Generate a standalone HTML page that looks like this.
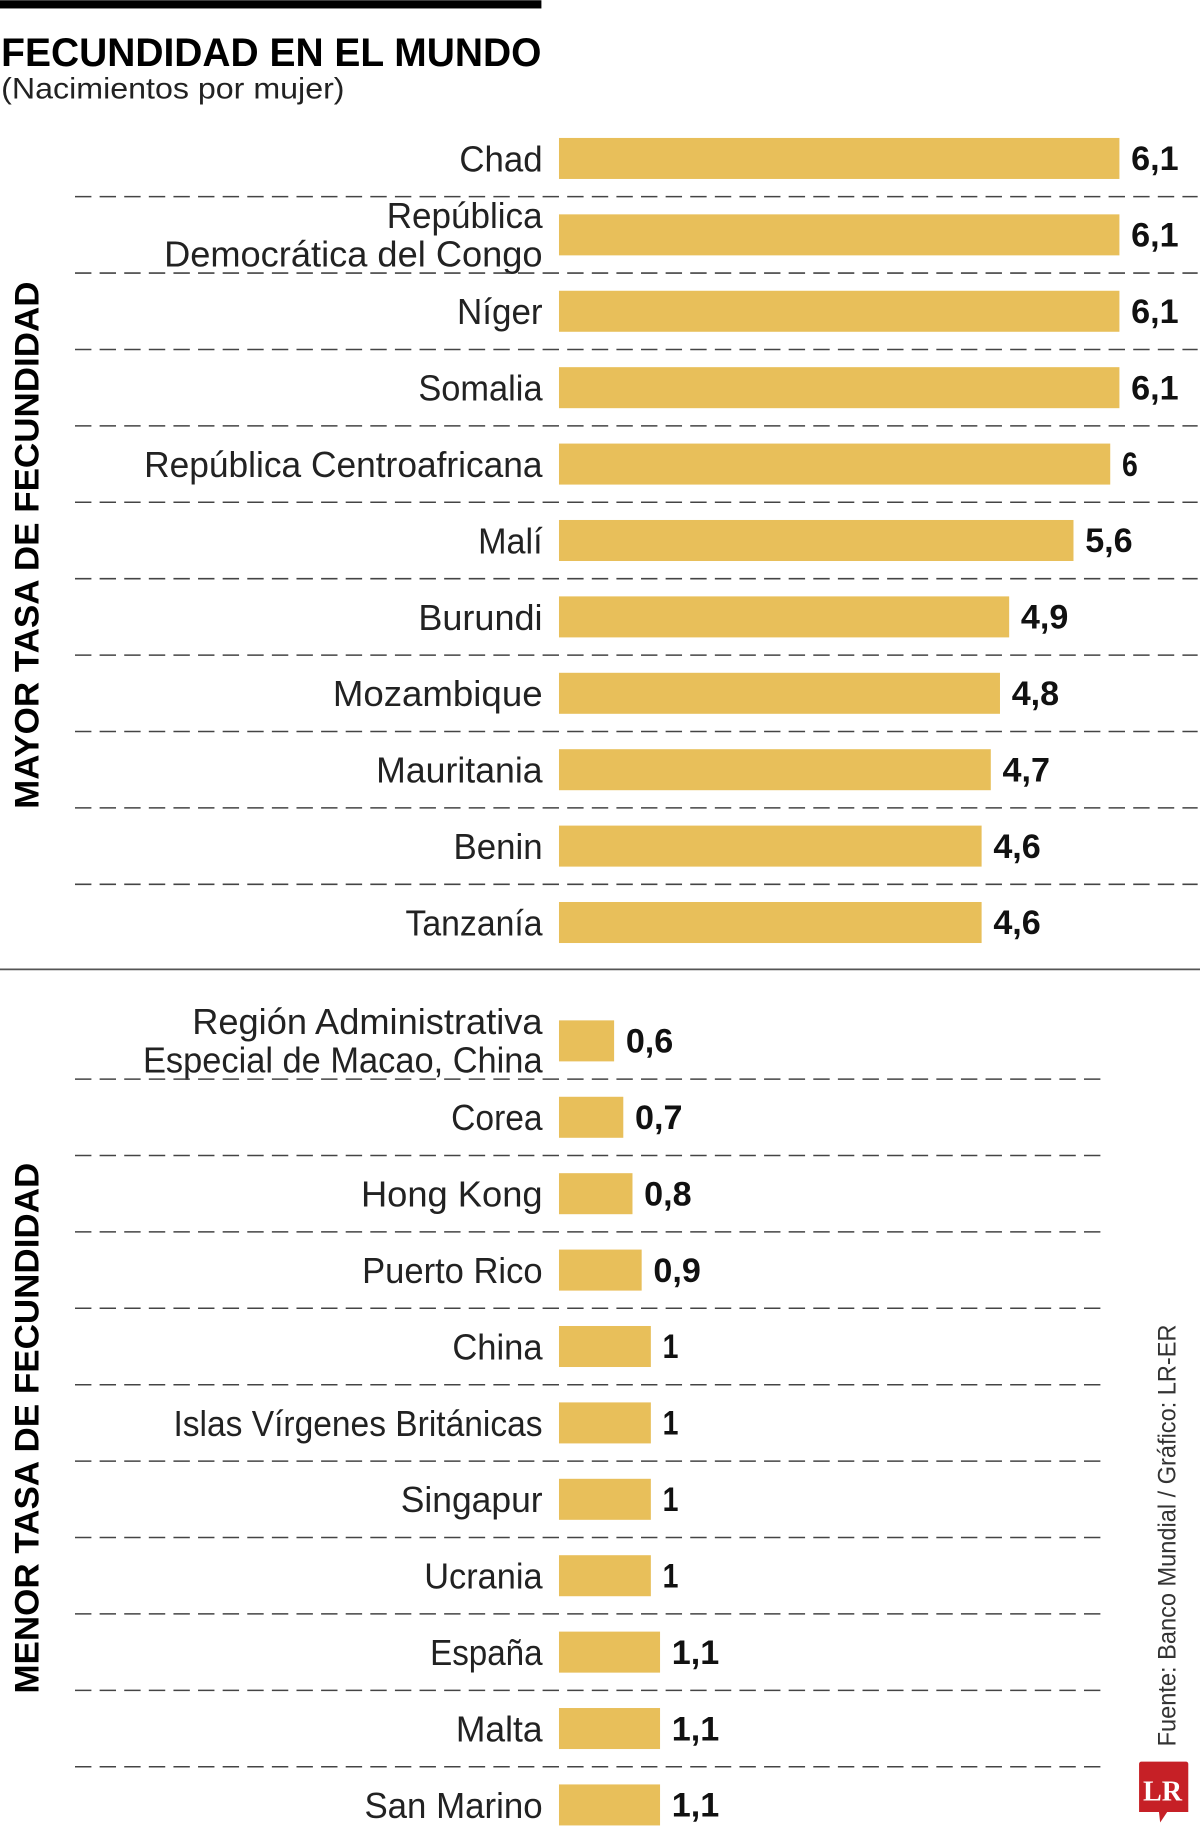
<!DOCTYPE html>
<html><head><meta charset="utf-8"><style>
html,body{margin:0;padding:0;background:#fff;}
svg{display:block;font-family:"Liberation Sans",sans-serif;}
</style></head><body>
<svg id="chart" width="1200" height="1838" viewBox="0 0 1024 1568" xmlns="http://www.w3.org/2000/svg">
<rect x="0" y="0" width="462" height="7" fill="#000"/>
<text x="1" y="56" font-size="34" font-weight="bold" textLength="461" lengthAdjust="spacingAndGlyphs">FECUNDIDAD EN EL MUNDO</text>
<text x="1" y="84" font-size="25" fill="#222" textLength="293" lengthAdjust="spacingAndGlyphs">(Nacimientos por mujer)</text>
<text transform="translate(33,690) rotate(-90)" font-size="29" font-weight="bold" textLength="450" lengthAdjust="spacingAndGlyphs">MAYOR TASA DE FECUNDIDAD</text>
<text transform="translate(33,1445) rotate(-90)" font-size="29" font-weight="bold" textLength="453" lengthAdjust="spacingAndGlyphs">MENOR TASA DE FECUNDIDAD</text>
<line x1="0" y1="827" x2="1024" y2="827" stroke="#555" stroke-width="1.5"/>
<text transform="translate(1003,1490) rotate(-90)" font-size="21" fill="#333" textLength="360" lengthAdjust="spacingAndGlyphs">Fuente: Banco Mundial / Gráfico: LR-ER</text>
<g>
<path d="M972 1503 h40 a2 2 0 0 1 2 2 v41 h-18 l-6 9 l-1 -9 h-17 v-41 a2 2 0 0 1 2 -2z" fill="#c62026"/>
<text x="992" y="1536" font-family="Liberation Serif,serif" font-weight="bold" font-size="24" fill="#fff" text-anchor="middle">LR</text>
</g>
<g id="bars"></g>
</svg>
<script>
const topCountries=[["Chad"],["República","Democrática del Congo"],["Níger"],["Somalia"],["República Centroafricana"],["Malí"],["Burundi"],["Mozambique"],["Mauritania"],["Benin"],["Tanzanía"]];
const topValues=[6.1,6.1,6.1,6.1,6,5.6,4.9,4.8,4.7,4.6,4.6];
const topLabelWidths=[[71],[133,323],[73],[106],[340],[55],[106],[179],[142],[76],[117]];
const bottomCountries=[["Región Administrativa","Especial de Macao, China"],["Corea"],["Hong Kong"],["Puerto Rico"],["China"],["Islas Vírgenes Británicas"],["Singapur"],["Ucrania"],["España"],["Malta"],["San Marino"]];
const bottomValues=[0.6,0.7,0.8,0.9,1,1,1,1,1.1,1.1,1.1];
const bottomLabelWidths=[[299,341],[78],[155],[154],[77],[315],[121],[101],[96],[74],[152]];

const NS="http://www.w3.org/2000/svg";
const g=document.getElementById('bars');
const x0=477, unit=78.4;
function xs(v){return x0+v*unit;}
function fmt(v){return String(v).replace('.',',');}
function mk(tag,attrs){const e=document.createElementNS(NS,tag);for(const k in attrs)e.setAttribute(k,attrs[k]);g.appendChild(e);return e;}
function drawGroup(cats,vals,widths,firstY,sepRight,prefix){
  const step=65.2;
  cats.forEach((c,i)=>{
    const cy=firstY+i*step;
    const r=mk('rect',{x:x0,y:cy-17.5,width:xs(vals[i])-x0,height:35,fill:'#e8bf5a'});
    
    
    const vt=mk('text',{x:xs(vals[i])+10,y:cy+10,'font-size':29,'font-weight':'bold',fill:'#111',textLength:fmt(vals[i]).length*13.5,lengthAdjust:'spacingAndGlyphs'});
    vt.textContent=fmt(vals[i]);
    
    
    c.forEach((line,j)=>{
      const ly=c.length===1?cy+11:cy-6+j*33;
      const t=mk('text',{x:463,y:ly,'font-size':31,fill:'#222','text-anchor':'end',textLength:widths[i][j],lengthAdjust:'spacingAndGlyphs'});
      t.textContent=line;
      
      
    });
    if(i<cats.length-1||prefix==='bottom'){
      const sy=cy+step/2;
      const l=mk('line',{x1:64,y1:sy,x2:sepRight,y2:sy,stroke:'#444','stroke-width':1.3,'stroke-dasharray':'14 7'});
      
      
    }
  });
}
drawGroup(topCountries,topValues,topLabelWidths,135,1022,'top');
drawGroup(bottomCountries,bottomValues,bottomLabelWidths,888,946,'bottom');
</script>
</body></html>
